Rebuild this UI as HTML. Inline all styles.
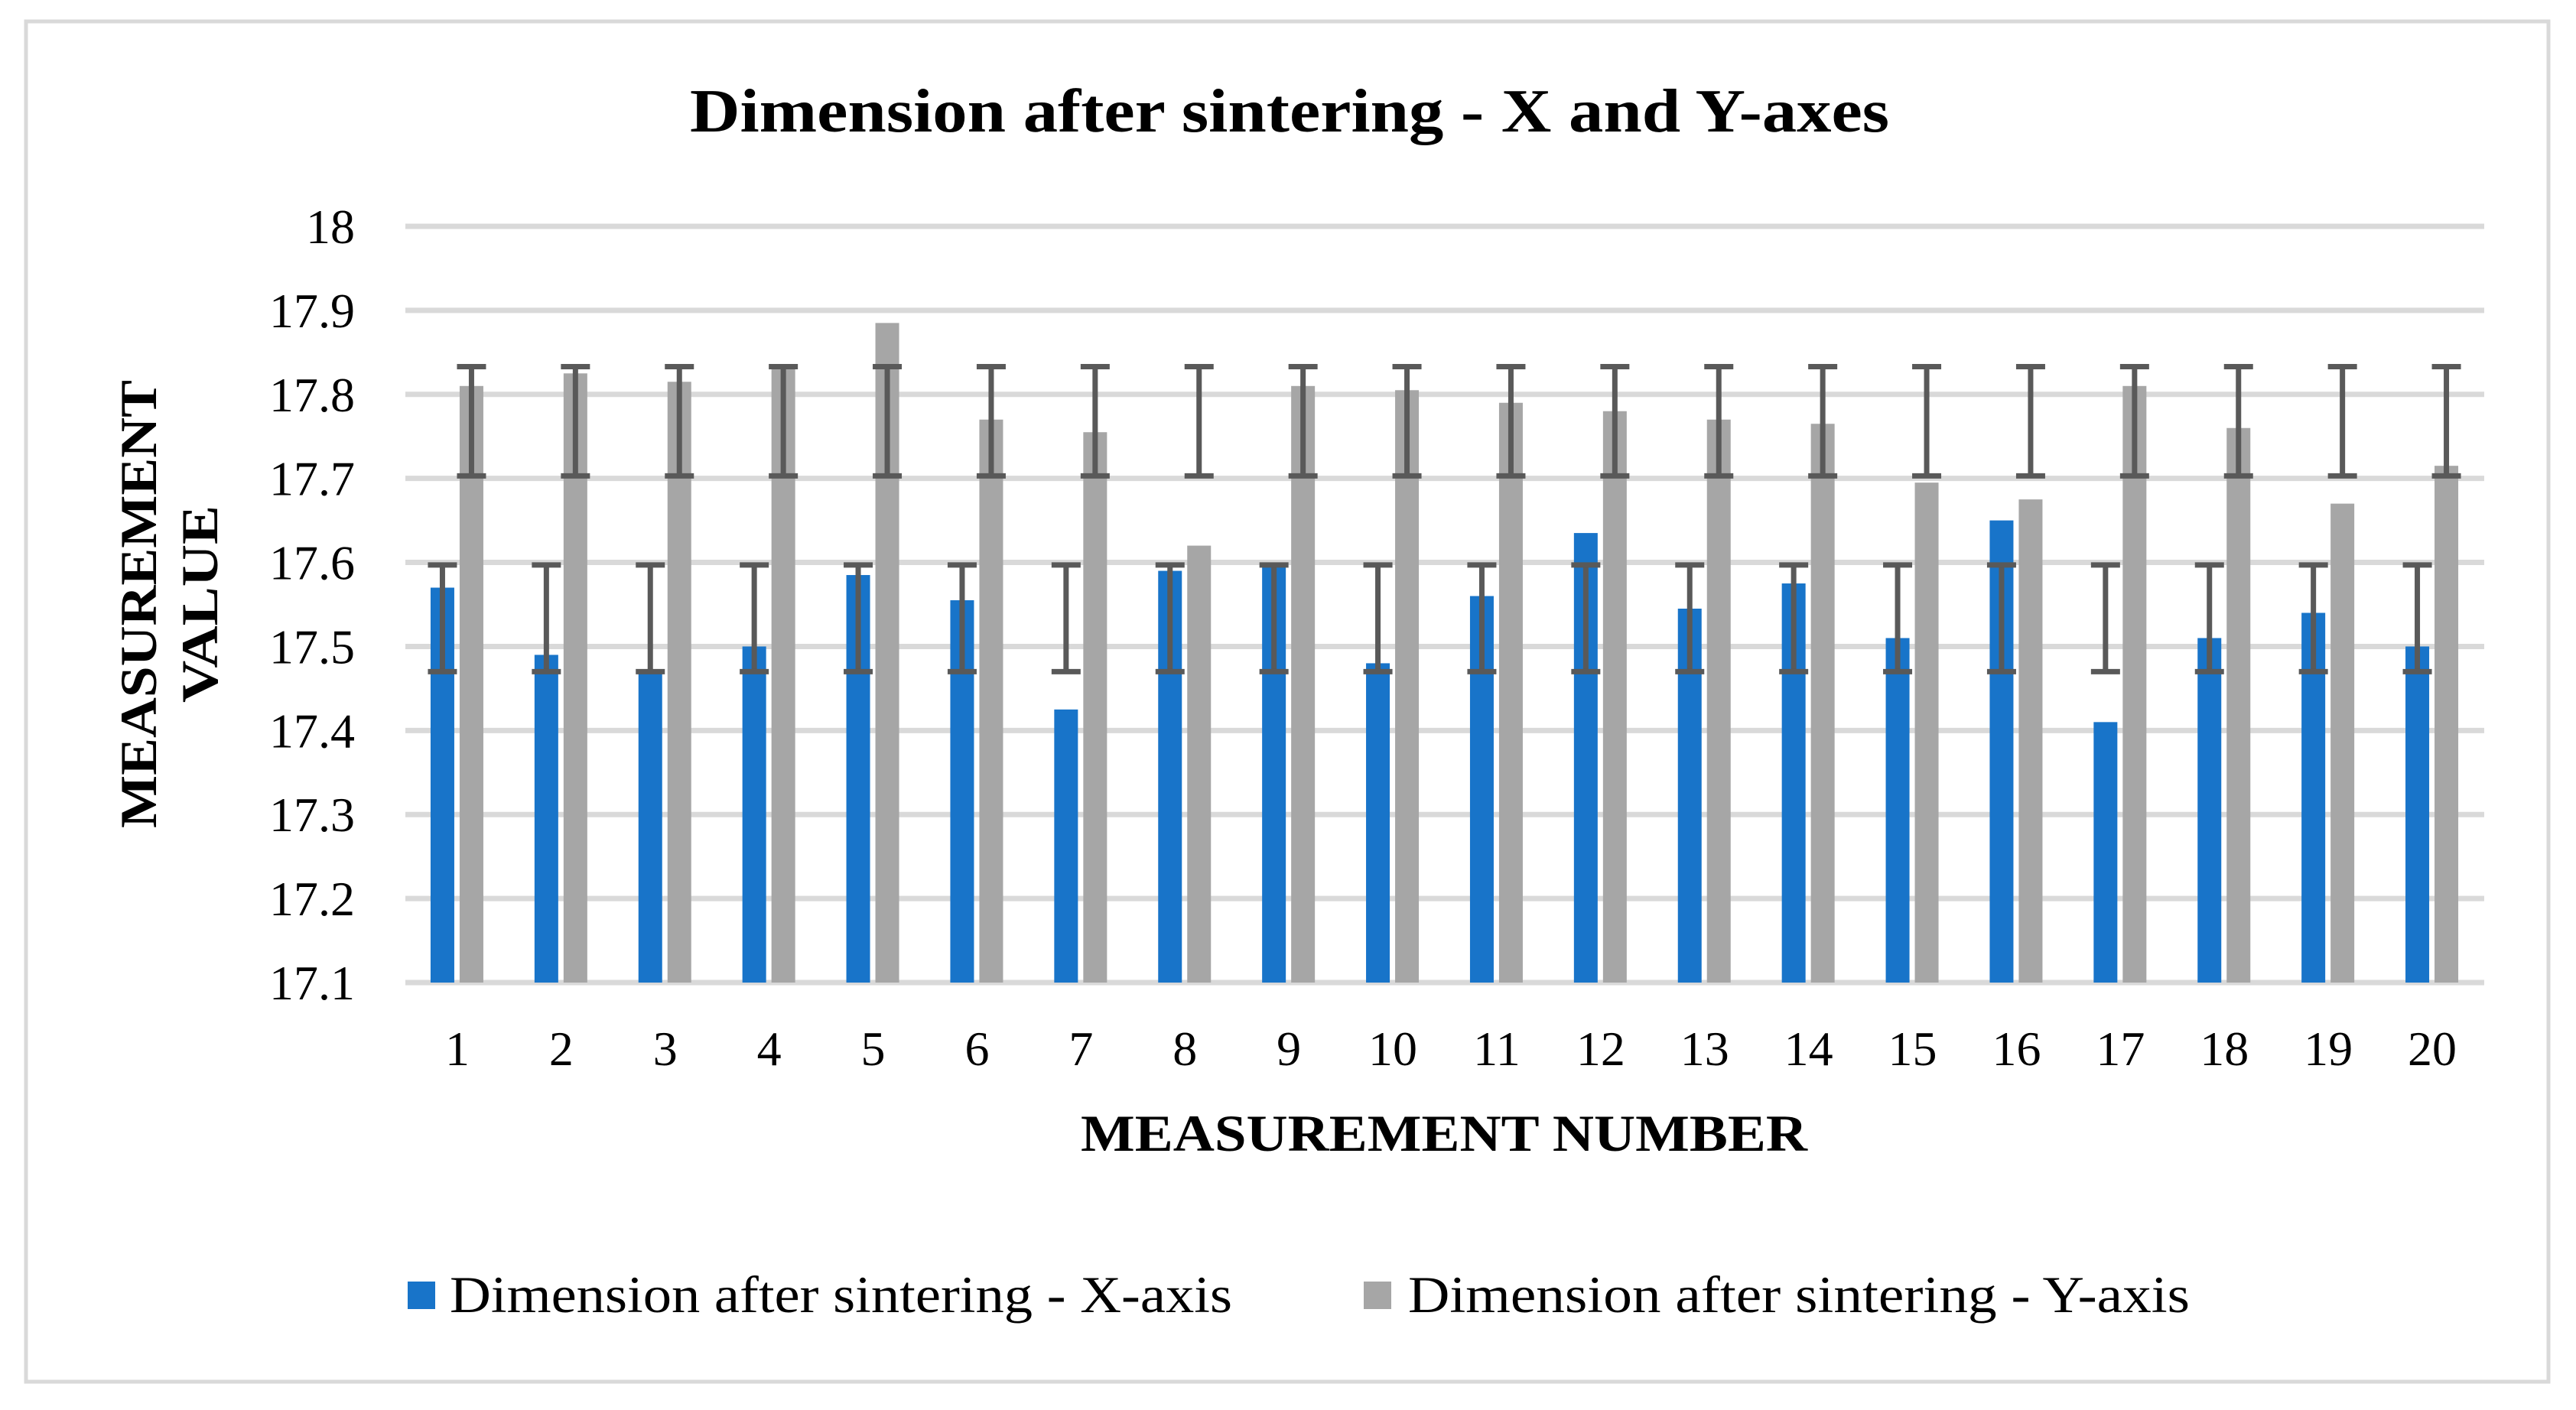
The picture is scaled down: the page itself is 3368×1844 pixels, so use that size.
<!DOCTYPE html>
<html><head><meta charset="utf-8"><style>
html,body{margin:0;padding:0;background:#fff;}
svg{display:block;}
</style></head><body>
<svg id="chart" width="3368" height="1844" viewBox="0 0 3368 1844" xmlns="http://www.w3.org/2000/svg">
<rect x="34" y="28" width="3298" height="1779" fill="#fff" stroke="#d9d9d9" stroke-width="5"/>
<text x="902" y="172" textLength="1568" lengthAdjust="spacingAndGlyphs" font-family="Liberation Serif, serif" font-weight="bold" font-size="80">Dimension after sintering - X and Y-axes</text>
<g id="grid"></g>
<g id="bars"></g>
<g id="errs"></g>
<g id="yticks"></g>
<g id="xticks"></g>
<text x="1413" y="1505" textLength="950" lengthAdjust="spacingAndGlyphs" font-family="Liberation Serif, serif" font-weight="bold" font-size="68">MEASUREMENT NUMBER</text>
<g transform="translate(222,790) rotate(-90)" font-family="Liberation Serif, serif" font-weight="bold" font-size="68">
<text x="-293" y="-18" textLength="586" lengthAdjust="spacingAndGlyphs">MEASUREMENT</text>
<text x="-129" y="62" textLength="258" lengthAdjust="spacingAndGlyphs">VALUE</text>
</g>
<g font-family="Liberation Serif, serif" font-size="68">
<rect x="533" y="1676" width="36" height="36" fill="#1874c9"/>
<text x="588" y="1716" textLength="1023" lengthAdjust="spacingAndGlyphs">Dimension after sintering - X-axis</text>
<rect x="1783" y="1676" width="36" height="36" fill="#a6a6a6"/>
<text x="1841" y="1716" textLength="1022" lengthAdjust="spacingAndGlyphs">Dimension after sintering - Y-axis</text>
</g>
</svg>
<script>
const categories = ["1","2","3","4","5","6","7","8","9","10","11","12","13","14","15","16","17","18","19","20"];
const xValues = [17.57,17.49,17.47,17.50,17.585,17.555,17.425,17.59,17.595,17.48,17.56,17.635,17.545,17.575,17.51,17.65,17.41,17.51,17.54,17.50];
const yValues = [17.81,17.825,17.815,17.83,17.885,17.77,17.755,17.62,17.81,17.805,17.79,17.78,17.77,17.765,17.695,17.675,17.81,17.76,17.67,17.715];
const xErrLow = [17.47,17.47,17.47,17.47,17.47,17.47,17.47,17.47,17.47,17.47,17.47,17.47,17.47,17.47,17.47,17.47,17.47,17.47,17.47,17.47];
const xErrHigh = [17.597,17.597,17.597,17.597,17.597,17.597,17.597,17.597,17.597,17.597,17.597,17.597,17.597,17.597,17.597,17.597,17.597,17.597,17.597,17.597];
const yErrLow = [17.703,17.703,17.703,17.703,17.703,17.703,17.703,17.703,17.703,17.703,17.703,17.703,17.703,17.703,17.703,17.703,17.703,17.703,17.703,17.703];
const yErrHigh = [17.833,17.833,17.833,17.833,17.833,17.833,17.833,17.833,17.833,17.833,17.833,17.833,17.833,17.833,17.833,17.833,17.833,17.833,17.833,17.833];
const yTicks = [17.1,17.2,17.3,17.4,17.5,17.6,17.7,17.8,17.9,18];
const yTickLabels = ["17.1","17.2","17.3","17.4","17.5","17.6","17.7","17.8","17.9","18"];

const NS="http://www.w3.org/2000/svg";
const L=530,R=3248,T=296,B=1285,YMIN=17.1,YMAX=18;
function ys(v){return B-(v-YMIN)/(YMAX-YMIN)*(B-T);}
const bw=(R-L)/categories.length;
function xc(i){return L+bw*(i+0.5);}
function mk(tag,attrs,parent){const e=document.createElementNS(NS,tag);for(const k in attrs)e.setAttribute(k,attrs[k]);parent.appendChild(e);return e;}
const grid=document.getElementById('grid'),bars=document.getElementById('bars'),errs=document.getElementById('errs'),ytk=document.getElementById('yticks'),xtk=document.getElementById('xticks');
yTicks.forEach((v,i)=>{
  const l=mk('line',{x1:L,x2:R,y1:ys(v),y2:ys(v),stroke:'#d9d9d9','stroke-width':7},grid);
  
  
  const t=mk('text',{x:464,y:ys(v)+22,'text-anchor':'end','font-family':'Liberation Serif, serif','font-size':64},ytk);
  t.textContent=yTickLabels[i];
  
  
});
function errBar(cx,lo,hi){
  const a=mk('line',{x1:cx,x2:cx,y1:ys(hi),y2:ys(lo),stroke:'#595959','stroke-width':7},errs);
  
  
  [lo,hi].forEach(v=>{const c=mk('line',{x1:cx-19,x2:cx+19,y1:ys(v),y2:ys(v),stroke:'#595959','stroke-width':7},errs);
  
  });
}
categories.forEach((c,i)=>{
  const cx=xc(i);
  const b1=mk('rect',{x:cx-35,y:ys(xValues[i]),width:31,height:B-ys(xValues[i]),fill:'#1874c9'},bars);
  
  
  const b2=mk('rect',{x:cx+3,y:ys(yValues[i]),width:31,height:B-ys(yValues[i]),fill:'#a6a6a6'},bars);
  
  
  errBar(cx-19.5,xErrLow[i],xErrHigh[i]);
  errBar(cx+18.5,yErrLow[i],yErrHigh[i]);
  const t=mk('text',{x:cx,y:1393,'text-anchor':'middle','font-family':'Liberation Serif, serif','font-size':64},xtk);
  t.textContent=c;
  
  
});
</script>
</body></html>
